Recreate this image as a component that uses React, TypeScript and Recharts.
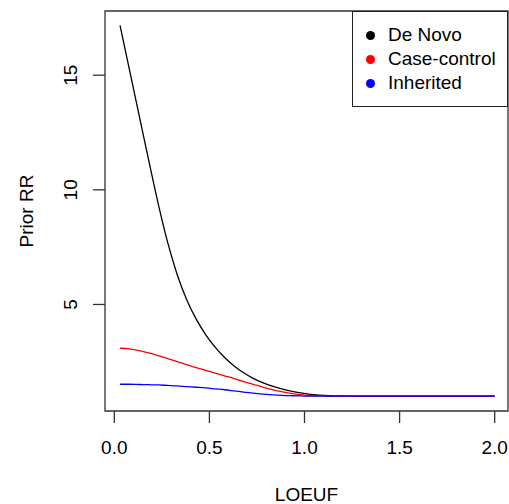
import { LineChart, Line, XAxis, YAxis, Legend, ReferenceArea } from "recharts";

const loeuf = [
  0.03, 0.08, 0.13, 0.18, 0.23, 0.28, 0.33, 0.38, 0.43, 0.48, 0.53, 0.58, 0.63, 0.68,
  0.73, 0.78, 0.83, 0.88, 0.93, 0.98, 1.03, 1.08, 1.13, 1.18, 1.3, 1.5, 1.75, 2.0,
];
const deNovo = [
  17.17, 15.22, 13.27, 11.32, 9.42, 7.72, 6.32, 5.22, 4.37, 3.69, 3.14, 2.69, 2.32, 2.02,
  1.78, 1.59, 1.44, 1.32, 1.22, 1.14, 1.08, 1.045, 1.022, 1.01, 1.0, 1.0, 1.0, 1.0,
];
const caseControl = [
  3.09, 3.06, 2.99, 2.89, 2.77, 2.64, 2.51, 2.38, 2.25, 2.13, 2.01, 1.89, 1.77, 1.64,
  1.52, 1.4, 1.29, 1.2, 1.12, 1.065, 1.03, 1.012, 1.003, 1.0, 1.0, 1.0, 1.0, 1.0,
];
const inherited = [
  1.52, 1.52, 1.51, 1.5, 1.49, 1.47, 1.45, 1.42, 1.39, 1.36, 1.32, 1.28, 1.23, 1.18,
  1.13, 1.09, 1.06, 1.035, 1.02, 1.01, 1.0, 1.0, 1.0, 1.0, 1.0, 1.0, 1.0, 1.0,
];
const xTicks = [0, 0.5, 1, 1.5, 2];
const yTicks = [5, 10, 15];

const series = [
  { key: "deNovo", name: "De Novo", color: "#000000" },
  { key: "caseControl", name: "Case-control", color: "#ff0000" },
  { key: "inherited", name: "Inherited", color: "#0000ff" },
];

const data = loeuf.map((x, i) => ({
  x,
  deNovo: deNovo[i],
  caseControl: caseControl[i],
  inherited: inherited[i],
}));

const FONT = "'Liberation Sans', Arial, sans-serif";
const XMIN = -0.049;
const XMAX = 2.07;
const YMIN = 0.354;
const YMAX = 17.8;

const YTick = ({ y, payload }: any) => (
  <text x={77} y={y} transform={`rotate(-90, 77, ${y})`} textAnchor="middle" fill="#000" fontSize={19} fontFamily={FONT}>
    {payload.value}
  </text>
);

const YLabel = () => (
  <text x={33} y={211} transform="rotate(-90, 33, 211)" textAnchor="middle" fill="#000" fontSize={19} fontFamily={FONT}>
    Prior RR
  </text>
);

const LegendBox = () => (
  <div style={{ border: "1px solid #222", background: "#fff", boxSizing: "border-box", width: 156, height: 96, paddingTop: 11, fontFamily: FONT, fontSize: 19 }}>
    {series.map((s) => (
      <div key={s.key} style={{ display: "flex", alignItems: "center", height: 24, lineHeight: "24px" }}>
        <span style={{ width: 9, height: 9, borderRadius: "50%", background: s.color, marginLeft: 13, marginRight: 13, display: "inline-block" }} />
        <span style={{ color: "#000" }}>{s.name}</span>
      </div>
    ))}
  </div>
);

export default function App() {
  return (
    <div style={{ position: "absolute", left: 0, top: 0, background: "#fff" }}>
      <LineChart width={509} height={504} data={data} margin={{ top: 11, right: 1, bottom: 0, left: 0 }} style={{ fontFamily: FONT }}>
        <XAxis
          dataKey="x"
          type="number"
          domain={[XMIN, XMAX]}
          allowDataOverflow
          ticks={xTicks}
          tickFormatter={(v: number) => v.toFixed(1)}
          height={93}
          axisLine={false}
          tickLine={{ stroke: "#333", strokeWidth: 1.3 }}
          tickSize={12}
          tickMargin={18}
          tick={{ fill: "#000", fontSize: 19 }}
          label={{ value: "LOEUF", position: "insideBottom", offset: 3, fill: "#000", fontSize: 19 }}
        />
        <YAxis
          type="number"
          domain={[YMIN, YMAX]}
          allowDataOverflow
          ticks={yTicks}
          width={105}
          axisLine={false}
          tickLine={{ stroke: "#333", strokeWidth: 1.3 }}
          tickSize={12}
          tick={<YTick />}
          label={<YLabel />}
        />
        <ReferenceArea x1={XMIN} x2={XMAX} y1={YMIN} y2={YMAX} fill="none" stroke="#333" strokeWidth={1.3} ifOverflow="visible" />
        {series.map((s) => (
          <Line
            key={s.key}
            type="monotone"
            dataKey={s.key}
            name={s.name}
            stroke={s.color}
            strokeWidth={1.3}
            dot={false}
            isAnimationActive={false}
          />
        ))}
        <Legend
          layout="horizontal"
          verticalAlign="middle"
          align="center"
          content={<LegendBox />}
          wrapperStyle={{ left: 352, top: 11, width: 156, height: 96 }}
        />
      </LineChart>
    </div>
  );
}
